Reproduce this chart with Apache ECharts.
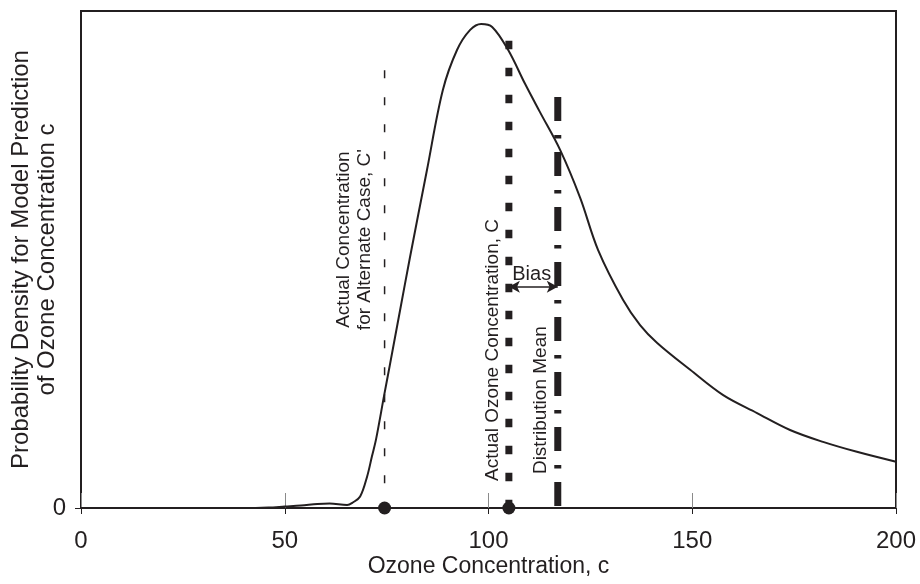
<!DOCTYPE html>
<html>
<head>
<meta charset="utf-8">
<script src="https://cdn.jsdelivr.net/npm/echarts@6/dist/echarts.min.js"></script>
<style>
  html, body { margin: 0; padding: 0; background: #fff; }
  #chart { width: 920px; height: 584px; }
</style>
</head>
<body>
<div id="chart"></div>
<script>
// ---- data ----
const ozone = [0, 20, 40, 46, 50, 54, 58, 61, 65.3, 66.7, 68.5, 70.2, 71.4, 72.4, 74.4, 75.8, 78.3, 80.7, 84.9, 88.8,
  92.3, 95.5, 98.2, 100.9, 104.8, 109, 112.6, 117.6, 122.5, 126.9, 133, 137.2, 141.4, 149.5, 157.6, 165.9, 174, 182.1, 190.4, 200];
const density = [0, 0, 0, 0.1, 0.3, 0.5, 0.8, 0.9, 0.6, 1.1, 2.3, 6.3, 10.4, 13.8, 22.7, 28.8, 39.8, 50.3, 68.0, 84.1,
  92.2, 96.2, 97.4, 96.8, 92.2, 85.3, 79.7, 72.0, 62.4, 51.9, 41.9, 36.8, 33.2, 27.8, 22.7, 19.1, 15.7, 13.3, 11.3, 9.3];
const xTicks = [0, 50, 100, 150, 200];
const yTicks = [0];
const altConc = 74.5;      // C'
const actualConc = 105;    // C
const meanConc = 117;      // distribution mean
const altTop = 88.1;
const actualTop = 94;
const meanTop = 82.7;
const biasLevel = 44.5;
const xTitle = 'Ozone Concentration, c';
const yTitle = 'Probability Density for Model Prediction\nof Ozone Concentration c';
const annAlt = 'Actual Concentration\nfor Alternate Case, C\'';
const annActual = 'Actual Ozone Concentration, C';
const annMean = 'Distribution Mean';
const annBias = 'Bias';

// ---- chart ----
const INK = '#231f20';
const FONT = '"Liberation Sans", Arial, Helvetica, sans-serif';
const chart = echarts.init(document.getElementById('chart'), null, { renderer: 'canvas' });

const option = {
  animation: false,
  backgroundColor: '#fff',
  textStyle: { fontFamily: FONT, color: INK },
  grid: {
    left: 81, right: 24, top: 11, bottom: 76, show: true, borderColor: INK, borderWidth: 2,
    containLabel: false, outerBoundsMode: 'none'
  },
  xAxis: [
    {
      type: 'value', min: xTicks[0], max: xTicks[xTicks.length - 1], interval: 50,
      name: xTitle, nameLocation: 'middle', nameGap: 47, nameMoveOverlap: false,
      nameTextStyle: { fontSize: 23, color: INK, fontFamily: FONT },
      axisLine: { show: true, lineStyle: { color: INK, width: 2 } },
      axisTick: { show: true, length: 6, lineStyle: { color: INK, width: 1 } },
      axisLabel: { fontSize: 24, color: INK, margin: 21, fontFamily: FONT },
      splitLine: { show: false }
    },
    {
      type: 'value', min: xTicks[0], max: xTicks[xTicks.length - 1], interval: 50, position: 'bottom',
      axisLine: { show: false },
      axisTick: { show: true, inside: true, length: 15, lineStyle: { color: '#8a8a8a', width: 1 } },
      axisLabel: { show: false },
      splitLine: { show: false }
    }
  ],
  yAxis: {
    type: 'value', min: 0, max: 100,
    name: yTitle, nameLocation: 'middle', nameRotate: 90, nameGap: 21, nameMoveOverlap: false,
    nameTextStyle: { fontSize: 24, lineHeight: 26, color: INK, fontFamily: FONT },
    axisLine: { show: true, lineStyle: { color: INK, width: 2 } },
    axisTick: { show: true, length: 6, customValues: yTicks, lineStyle: { color: INK, width: 1 } },
    axisLabel: { fontSize: 24, color: INK, margin: 15, customValues: yTicks, fontFamily: FONT },
    splitLine: { show: false }
  },
  series: [
    {
      name: 'density', type: 'line', smooth: 0.35, symbol: 'none', z: 4,
      data: ozone.map((x, i) => [x, density[i]]),
      lineStyle: { color: INK, width: 2 },
      markLine: {
        silent: true, symbol: ['arrow', 'arrow'], symbolSize: [9, 11],
        lineStyle: { type: 'solid', color: INK, width: 1.5 },
        label: { show: false },
        data: [[{ coord: [actualConc, biasLevel] }, { coord: [meanConc, biasLevel] }]]
      }
    },
    {
      name: 'alt', type: 'line', symbol: 'none', z: 3,
      data: [[altConc, altTop], [altConc, 0]],
      lineStyle: { color: INK, width: 1.5, type: [8, 19] }
    },
    {
      name: 'actual', type: 'line', symbol: 'none', z: 3,
      data: [[actualConc, actualTop], [actualConc, 0]],
      lineStyle: { color: INK, width: 7, type: [8.5, 18.5] }
    },
    {
      name: 'mean', type: 'line', symbol: 'none', z: 3,
      data: [[meanConc, meanTop], [meanConc, 0]],
      lineStyle: { color: INK, width: 7, type: [24, 14, 3.5, 13.5] }
    },
    {
      name: 'points', type: 'scatter', symbol: 'circle', symbolSize: 13, z: 6, clip: false,
      data: [[altConc, 0], [actualConc, 0]],
      itemStyle: { color: INK, opacity: 1 }
    }
  ]
};
chart.setOption(option);

// annotation anchors in data coordinates
const anns = [
  { text: annAlt, x: 67.0, y: 54.0, rot: Math.PI / 2, size: 19 },
  { text: annActual, x: 101.1, y: 31.8, rot: Math.PI / 2, size: 19 },
  { text: annMean, x: 112.9, y: 21.7, rot: Math.PI / 2, size: 19 },
  { text: annBias, x: 110.6, y: 46.9, rot: 0, size: 20 }
];
chart.setOption({
  graphic: anns.map(a => {
    const p = chart.convertToPixel({ xAxisIndex: 0, yAxisIndex: 0 }, [a.x, a.y]);
    return {
      type: 'text', x: p[0], y: p[1], rotation: a.rot, z: 10,
      style: {
        text: a.text, fontSize: a.size, fontFamily: FONT, fill: INK,
        textAlign: 'center', textVerticalAlign: 'middle', lineHeight: 21
      }
    };
  })
});
</script>
</body>
</html>
